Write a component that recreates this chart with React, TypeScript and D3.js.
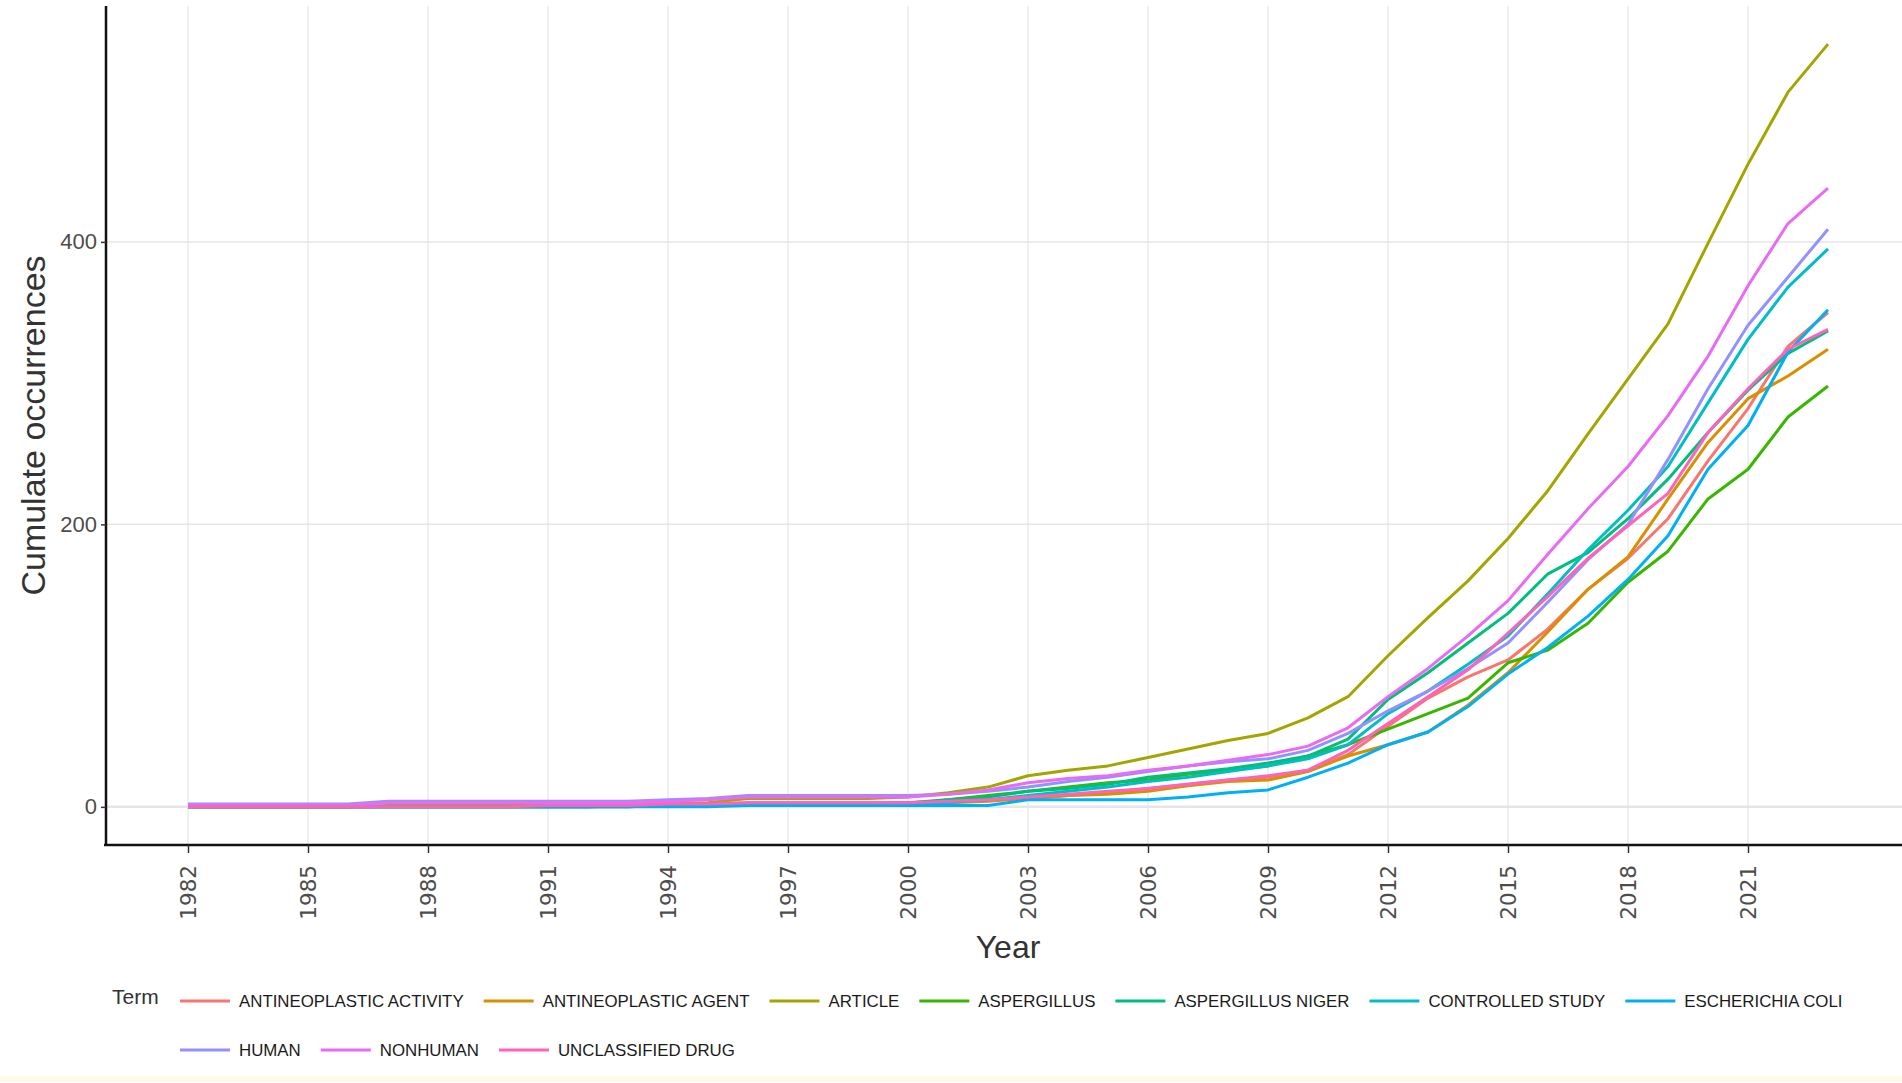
import React, { useRef, useEffect } from 'react';
import * as d3 from 'd3';

const years = [
  1982, 1983, 1984, 1985, 1986, 1987, 1988, 1989, 1990, 1991, 1992, 1993, 1994, 1995,
  1996, 1997, 1998, 1999, 2000, 2001, 2002, 2003, 2004, 2005, 2006, 2007, 2008, 2009,
  2010, 2011, 2012, 2013, 2014, 2015, 2016, 2017, 2018, 2019, 2020, 2021, 2022, 2023,
];

const terms = [
  'ANTINEOPLASTIC ACTIVITY',
  'ANTINEOPLASTIC AGENT',
  'ARTICLE',
  'ASPERGILLUS',
  'ASPERGILLUS NIGER',
  'CONTROLLED STUDY',
  'ESCHERICHIA COLI',
  'HUMAN',
  'NONHUMAN',
  'UNCLASSIFIED DRUG',
];

const termColors = [
  '#F8766D', '#D89000', '#A3A500', '#39B600', '#00BF7D',
  '#00BFC4', '#00B0F6', '#9590FF', '#E76BF3', '#FF62BC',
];

const antineoplasticActivity = [
  0, 0, 0, 0, 0, 0, 0, 0, 0, 1, 1, 1, 2, 2, 3, 3, 3, 3, 3,
  4, 5, 6, 8, 10, 13, 16, 19, 21, 26, 37,
  57, 77, 92, 104, 126, 154, 176, 204, 245, 282, 326, 350,
];
const antineoplasticAgent = [
  0, 0, 0, 0, 0, 0, 0, 0, 0, 0, 0, 1, 1, 1, 2, 2, 2, 2, 2,
  3, 4, 6, 8, 9, 11, 15, 18, 19, 25, 36,
  44, 53, 72, 95, 124, 154, 177, 218, 258, 289, 305, 324,
];
const article = [
  0, 0, 0, 0, 0, 1, 1, 1, 1, 1, 1, 1, 2, 3, 6, 6, 6, 6, 7,
  10, 14, 22, 26, 29, 35, 41, 47, 52, 63, 78,
  107, 134, 160, 190, 224, 264, 303, 342, 399, 455, 506, 540,
];
const aspergillus = [
  0, 0, 0, 0, 0, 0, 0, 0, 0, 0, 0, 0, 1, 1, 2, 2, 2, 2, 2,
  5, 8, 11, 14, 17, 19, 23, 26, 29, 36, 44,
  55, 66, 77, 102, 111, 130, 159, 181, 218, 239, 276, 298,
];
const aspergillusNiger = [
  0, 0, 0, 0, 0, 0, 0, 0, 0, 0, 0, 1, 1, 1, 2, 2, 2, 2, 3,
  5, 7, 11, 13, 16, 21, 24, 27, 31, 36, 48,
  76, 95, 116, 137, 165, 180, 204, 232, 265, 295, 321, 337,
];
const controlledStudy = [
  0, 0, 0, 0, 0, 0, 0, 0, 0, 0, 0, 0, 1, 1, 2, 2, 2, 2, 2,
  3, 5, 8, 11, 14, 18, 21, 25, 29, 34, 44,
  66, 82, 101, 121, 151, 182, 210, 241, 286, 331, 368, 395,
];
const escherichiaColi = [
  0, 0, 0, 0, 0, 0, 0, 0, 0, 0, 0, 0, 0, 0, 1, 1, 1, 1, 1,
  1, 1, 5, 5, 5, 5, 7, 10, 12, 21, 31,
  44, 53, 71, 94, 113, 135, 161, 192, 239, 270, 322, 352,
];
const human = [
  2, 2, 2, 2, 2, 4, 4, 4, 4, 4, 4, 4, 5, 6, 8, 8, 8, 8, 8,
  9, 11, 14, 18, 21, 25, 29, 32, 34, 40, 52,
  68, 82, 98, 116, 145, 175, 200, 246, 296, 341, 375, 409,
];
const nonhuman = [
  1, 1, 1, 1, 1, 3, 3, 3, 3, 3, 3, 3, 4, 5, 7, 7, 7, 7, 7,
  9, 12, 17, 20, 22, 26, 29, 33, 37, 43, 56,
  78, 98, 121, 146, 179, 211, 241, 277, 319, 369, 413, 438,
];
const unclassifiedDrug = [
  0, 0, 0, 0, 0, 0, 0, 0, 0, 1, 1, 1, 2, 2, 3, 3, 3, 3, 3,
  4, 5, 7, 9, 11, 13, 16, 19, 22, 26, 40,
  59, 78, 97, 123, 149, 176, 199, 222, 265, 296, 324, 338,
];

const seriesValues = [
  antineoplasticActivity, antineoplasticAgent, article, aspergillus, aspergillusNiger,
  controlledStudy, escherichiaColi, human, nonhuman, unclassifiedDrug,
];

const xTicks = [1982, 1985, 1988, 1991, 1994, 1997, 2000, 2003, 2006, 2009, 2012, 2015, 2018, 2021];
const yTicks = [0, 200, 400];

const W = 1902;
const H = 1083;

const App: React.FC = () => {
  const svgRef = useRef<SVGSVGElement | null>(null);

  useEffect(() => {
    if (!svgRef.current) return;
    const svg = d3.select(svgRef.current);
    svg.selectAll('*').remove();

    const left = 106;
    const right = 1910;
    const top = 6;
    const bottom = 845;

    const x = d3.scaleLinear().domain([1979.95, 2025.05]).range([left, right]);
    const y = d3.scaleLinear().domain([-27, 567]).range([bottom, top]);

    svg.append('rect').attr('width', W).attr('height', H).attr('fill', '#ffffff');

    // grid
    const grid = svg.append('g');
    grid.selectAll('line.gx')
      .data(xTicks)
      .join('line')
      .attr('x1', d => x(d)).attr('x2', d => x(d))
      .attr('y1', top).attr('y2', bottom)
      .attr('stroke', '#ebebeb').attr('stroke-width', 1.5);
    grid.selectAll('line.gy')
      .data(yTicks)
      .join('line')
      .attr('x1', left).attr('x2', W)
      .attr('y1', d => y(d)).attr('y2', d => y(d))
      .attr('stroke', '#e6e6e6').attr('stroke-width', d => (d === 0 ? 2.5 : 1.5));

    // lines
    const line = d3.line<number>()
      .x((_, i) => x(years[i]))
      .y(d => y(d));
    svg.append('g')
      .selectAll('path')
      .data(seriesValues)
      .join('path')
      .attr('d', d => line(d))
      .attr('fill', 'none')
      .attr('stroke', (_, i) => termColors[i])
      .attr('stroke-width', 3)
      .attr('stroke-linejoin', 'round');

    // axes
    const xAxis = svg.append('g')
      .attr('transform', `translate(0,${bottom})`)
      .call(d3.axisBottom(x).tickValues(xTicks).tickFormat(d => String(d)).tickSize(8).tickSizeOuter(0));
    xAxis.select('.domain').attr('stroke', '#111').attr('stroke-width', 2.5).attr('d', `M${left - 2},0H${W}`);
    xAxis.selectAll('.tick line').attr('stroke', '#333').attr('stroke-width', 1.5);
    xAxis.selectAll('.tick text')
      .attr('font-family', '"DejaVu Sans", sans-serif')
      .attr('font-size', 21.5)
      .attr('fill', '#4d4d4d')
      .attr('text-anchor', 'end')
      .attr('transform', 'rotate(-90)')
      .attr('x', -20)
      .attr('y', 0)
      .attr('dy', '0.36em');

    const yAxis = svg.append('g')
      .attr('transform', `translate(${left},0)`)
      .call(d3.axisLeft(y).tickValues(yTicks).tickSize(5).tickSizeOuter(0));
    yAxis.select('.domain').attr('stroke', '#111').attr('stroke-width', 2.5).attr('d', `M0,${top}V${bottom + 1}`);
    yAxis.selectAll('.tick line').attr('stroke', '#333').attr('stroke-width', 1.5);
    yAxis.selectAll('.tick text')
      .attr('font-family', '"Liberation Sans", Arial, sans-serif')
      .attr('font-size', 22)
      .attr('fill', '#4d4d4d')
      .attr('x', -9);

    // axis titles
    svg.append('text')
      .attr('x', (left + right) / 2)
      .attr('y', 958)
      .attr('text-anchor', 'middle')
      .attr('font-family', '"Liberation Sans", Arial, sans-serif')
      .attr('font-size', 32)
      .attr('fill', '#333')
      .text('Year');
    svg.append('text')
      .attr('transform', `translate(45,${(top + bottom) / 2}) rotate(-90)`)
      .attr('text-anchor', 'middle')
      .attr('font-family', '"Liberation Sans", Arial, sans-serif')
      .attr('font-size', 34)
      .attr('fill', '#333')
      .text('Cumulate occurrences');

    // legend
    const legend = svg.append('g');
    legend.append('text')
      .attr('x', 112).attr('y', 1004)
      .attr('font-family', '"Liberation Sans", Arial, sans-serif')
      .attr('font-size', 21)
      .attr('fill', '#333')
      .text('Term');
    const rows = [terms.slice(0, 7), terms.slice(7)];
    const rowY = [1001, 1050];
    let idx = 0;
    rows.forEach((row, r) => {
      let cx = 180;
      row.forEach(term => {
        const color = termColors[idx];
        idx += 1;
        legend.append('line')
          .attr('x1', cx).attr('x2', cx + 50)
          .attr('y1', rowY[r]).attr('y2', rowY[r])
          .attr('stroke', color).attr('stroke-width', 3.2);
        const t = legend.append('text')
          .attr('x', cx + 59).attr('y', rowY[r])
          .attr('dy', '0.36em')
          .attr('font-family', '"Liberation Sans", Arial, sans-serif')
          .attr('font-size', 16.85)
          .attr('fill', '#1a1a1a')
          .text(term);
        const tw = (t.node() as SVGTextElement).getComputedTextLength();
        cx += 59 + tw + 20;
      });
    });

    svg.append('rect')
      .attr('x', 0).attr('y', 1076).attr('width', W).attr('height', 6)
      .attr('fill', '#fbfbe8');
  }, []);

  return (
    <>
      <style>{'body{margin:0}'}</style>
      <svg ref={svgRef} width={W} height={H} style={{ display: 'block' }} />
    </>
  );
};

export default App;
